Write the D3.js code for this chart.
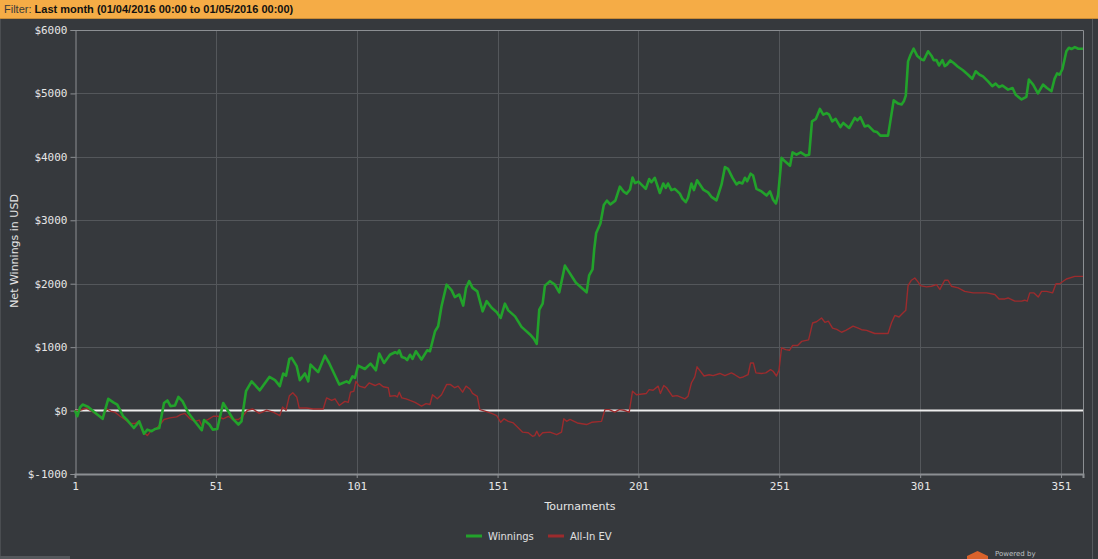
<!DOCTYPE html>
<html>
<head>
<meta charset="utf-8">
<script src="https://cdn.jsdelivr.net/npm/d3@7"></script>
<style>
  body { margin: 0; background: #36393d; }
  svg { display: block; }
  .tick text { fill: #e6e6e6; font-family: 'DejaVu Sans Mono', monospace; font-size: 11px; }
  .axisTitle { fill: #e6e6e6; font-family: 'DejaVu Sans', sans-serif; font-size: 11px; }
  .legendText { fill: #e0e0e0; font-family: 'DejaVu Sans', sans-serif; font-size: 10px; }
</style>
</head>
<body>
<svg id="chart" width="1098" height="559"></svg>
<script>
// [tournament, net winnings in USD] at the line's corners
let winnings = [
  [1,0],[1.8,-90],[2.8,50],[3.7,95],[5.7,58],[7.5,-10],[10.8,-130],[12.8,185],[14.6,130],[16,95],
  [18.1,-90],[19.3,-140],[21.9,-275],[23.8,-170],[25.5,-365],[26.7,-300],[28.2,-325],[29.4,-290],
  [30.9,-275],[32.6,120],[33.8,160],[34.9,70],[36.5,80],[37.7,215],[39.2,145],[41.2,-35],[43,-140],
  [46,-310],[46.8,-150],[48.7,-220],[49.9,-300],[51.5,-290],[53.6,120],[55.4,-10],[57.2,-140],
  [59,-220],[60.1,-170],[61.7,305],[63.7,460],[66.6,320],[70,530],[72,480],[73.7,385],[74.9,585],
  [75.9,550],[77.1,815],[77.9,830],[79.7,700],[80.8,480],[82.6,585],[83.8,460],[84.6,725],[87.3,605],
  [89.7,865],[91.2,750],[94.8,410],[97.4,460],[98.3,435],[99.5,540],[100.4,515],[101.5,710],
  [103.9,655],[105.9,740],[107.8,635],[109,900],[110.7,750],[112.8,880],[114.6,920],[115.4,900],
  [116.1,950],[117,845],[118.1,830],[118.9,795],[119.9,880],[120.8,815],[122,935],[124,805],[126,950],
  [127,935],[128.8,1250],[129.9,1330],[131.1,1645],[132.9,1985],[134.7,1895],[135.8,1790],[137.4,1830],
  [138.8,1655],[139.8,1935],[140.9,2040],[142.1,1935],[143.8,1880],[145.7,1565],[147.1,1725],
  [148.9,1620],[150.7,1550],[152.1,1460],[153.6,1685],[154.8,1580],[157.2,1485],[159.5,1320],
  [162.5,1200],[163.9,1130],[164.9,1050],[165.8,1590],[167,1685],[167.8,1970],[169.6,2040],
  [171.3,1985],[172.9,1865],[174.9,2285],[178.8,2015],[182.6,1865],[183.5,2130],[184.7,2225],
  [185.3,2540],[186,2800],[187.5,2950],[188.7,3240],[189.8,3310],[191,3250],[192.8,3310],[194.4,3530],
  [195.8,3450],[196.8,3420],[198,3485],[198.9,3675],[199.8,3585],[201,3610],[203.6,3495],[204.8,3650],
  [205.6,3600],[206.8,3670],[208.6,3430],[209.8,3580],[210.7,3510],[211.5,3580],[212.7,3475],
  [213.9,3495],[215.7,3420],[216.6,3340],[217.8,3285],[218.6,3355],[219.8,3580],[220.7,3475],
  [221.8,3630],[224,3485],[225.7,3440],[226.9,3370],[228.7,3315],[230.5,3565],[231.7,3840],
  [232.8,3810],[234.4,3670],[235.8,3565],[236.7,3600],[237.9,3580],[238.8,3670],[239.6,3615],
  [240.8,3735],[241.7,3705],[242.9,3495],[244.7,3455],[246.5,3390],[247.7,3455],[248.8,3325],
  [249.8,3265],[250.6,3405],[251.8,3985],[253,3930],[254.8,3860],[255.7,4070],[257.1,4035],
  [258.6,4070],[260.4,4020],[261.6,4035],[262.6,4560],[264,4600],[265.4,4755],[266.6,4665],
  [267.8,4690],[268.7,4665],[269.8,4560],[271,4600],[272.7,4470],[273.7,4535],[275.8,4455],
  [277.8,4615],[278.7,4575],[279.8,4625],[281.3,4480],[282.5,4495],[284.5,4405],[285.7,4390],
  [286.9,4335],[289.6,4335],[291.6,4890],[293.2,4840],[294.4,4825],[295.2,4875],[295.9,4965],
  [296.7,5505],[297.6,5610],[298.7,5705],[299.9,5595],[301.5,5535],[302.3,5525],[303.8,5665],
  [305,5595],[305.8,5525],[306.8,5525],[307.7,5440],[308.9,5525],[309.7,5430],[310.5,5455],
  [311.7,5520],[312.9,5480],[314.4,5420],[316.2,5365],[318,5295],[319.5,5230],[320.7,5350],
  [322.1,5295],[323.3,5270],[325.1,5190],[326.6,5115],[327.8,5155],[329,5100],[330.2,5125],
  [332.2,5060],[333.8,5085],[334.9,4980],[337,4905],[338.7,4945],[339.6,5220],[341.1,5140],
  [342.8,5000],[344.6,5140],[346,5085],[347.6,5035],[348.7,5230],[349.6,5315],[350.5,5295],
  [351.5,5385],[352.9,5665],[353.8,5720],[354.7,5700],[355.9,5730],[357.1,5705],[358.8,5705]
];

let allInEv = [
  [1,0],[2.8,5],[5.1,40],[6.9,-10],[9.3,-80],[10.8,-100],[12.2,25],[13.7,-10],[15.2,-25],[17,-90],
  [18.7,-140],[20.5,-205],[22.3,-205],[23.5,-170],[25,-325],[26.7,-395],[27.9,-325],[29.4,-300],
  [30.9,-235],[32.6,-140],[34.7,-115],[37.1,-100],[38.5,-65],[40,-45],[41.8,-130],[43.6,-170],
  [45.1,-150],[46,-235],[46.8,-170],[48.3,-140],[50.1,-90],[51.9,-90],[53.6,-130],[55.4,-90],
  [57,-140],[59,-140],[60.5,-90],[62.2,5],[64.1,25],[66.4,-45],[69,5],[71.4,-25],[73.7,-80],
  [74.7,55],[75.9,5],[77.1,235],[78.3,280],[79.7,215],[80.6,40],[83.2,40],[85.6,25],[89.1,25],
  [90.3,200],[92.1,160],[93.3,185],[94.8,80],[96.8,145],[98,130],[98.8,290],[100,305],[100.7,460],
  [101.9,385],[103.9,360],[105.4,435],[107.5,395],[109,425],[110.4,375],[112.2,360],[112.8,225],
  [114.6,235],[115.4,215],[116.1,290],[117,200],[118.5,185],[119.9,160],[121.7,130],[124,70],
  [125.6,110],[127,95],[127.9,250],[129.6,185],[131.1,250],[132.9,410],[134.3,410],[135.8,360],
  [137,385],[138.6,290],[139.8,385],[141.2,340],[142.1,270],[143.8,225],[144.7,15],[146.5,-10],
  [148.9,-45],[150.7,-80],[152.1,-185],[153.3,-130],[154.8,-170],[156.6,-195],[158.4,-275],
  [159.9,-340],[161.9,-350],[163.4,-405],[164.2,-395],[164.9,-325],[165.8,-405],[167,-350],
  [169.6,-340],[172,-380],[173.7,-340],[174.5,-130],[175.5,-170],[176.7,-140],[179.3,-195],
  [182.6,-220],[184.4,-185],[187.9,-170],[189.1,15],[190.6,15],[192.6,-25],[194.2,15],[195.8,5],
  [197.7,-25],[198.9,305],[200.3,250],[203.8,270],[204.8,330],[206.2,320],[208,385],[208.8,270],
  [210,395],[211,360],[213.1,225],[214.7,235],[217.5,185],[218.6,225],[219.8,435],[221,530],
  [221.8,690],[224.3,545],[226.1,565],[227.5,550],[229.9,585],[231.7,550],[234,595],[235.2,565],
  [237,515],[238.2,530],[239.9,565],[240.8,750],[241.8,750],[242.7,595],[244.7,585],[246.2,595],
  [247.9,645],[248.8,620],[250,545],[250.9,640],[251.8,990],[253.3,960],[254.6,950],[255.7,1025],
  [257.5,1025],[258.9,1090],[261.4,1115],[262.8,1380],[264.2,1400],[266,1460],[267.2,1390],
  [268.4,1410],[269.9,1300],[271.4,1280],[273.1,1235],[274.6,1265],[276,1300],[277.2,1330],
  [279,1300],[280.2,1275],[282,1265],[283.7,1235],[284.9,1215],[289.6,1215],[290.8,1380],[292,1500],
  [293.5,1475],[294.7,1530],[295.9,1580],[296.7,1970],[297.9,2055],[299.1,2090],[300.3,2025],
  [301.1,1970],[303.2,1950],[305,1960],[306.8,1985],[308,1910],[309.7,2055],[310.9,2055],
  [312.1,1960],[314.5,1935],[316.8,1880],[319.8,1855],[324.6,1855],[327.5,1830],[329,1760],
  [331.1,1760],[332.2,1775],[334.6,1725],[337,1725],[338.1,1740],[339,1725],[339.9,1855],
  [341.4,1855],[342.9,1790],[344.1,1880],[345.9,1880],[348,1855],[349.2,2000],[350.5,2000],
  [352.9,2075],[355.9,2115],[358.8,2115]
];

let xTicks = [1, 51, 101, 151, 201, 251, 301, 351];
let yTicks = [-1000, 0, 1000, 2000, 3000, 4000, 5000, 6000];
let seriesNames = ['Winnings', 'All-In EV'];
let seriesColors = ['#22a22b', '#9c2b2d'];

let svg = d3.select('#chart');
let plot = {left: 75, right: 1083, top: 30, bottom: 474};

let x = d3.scaleLinear().domain([1, 358.8]).range([plot.left, plot.right]);
let y = d3.scaleLinear().domain([-1000, 6000]).range([plot.bottom, plot.top]);

// Filter bar across the top
svg.append('rect')
    .attr('x', 0).attr('y', 0).attr('width', 1098).attr('height', 18)
    .attr('fill', '#f5ac46');
svg.append('line')
    .attr('x1', 0).attr('x2', 1098).attr('y1', 18.5).attr('y2', 18.5)
    .attr('stroke', '#c98b36');
let filterText = svg.append('text')
    .attr('x', 4).attr('y', 13)
    .style('font-family', "'Liberation Sans', sans-serif")
    .style('font-size', '11px');
filterText.append('tspan').attr('fill', '#3a3a3a').text('Filter: ');
filterText.append('tspan').attr('fill', '#111').style('font-weight', 'bold')
    .text('Last month (01/04/2016 00:00 to 01/05/2016 00:00)');

// window edges
svg.append('line').attr('x1', 0.5).attr('x2', 0.5).attr('y1', 19).attr('y2', 559)
    .attr('stroke', '#4a4d51');
svg.append('line').attr('x1', 1092.5).attr('x2', 1092.5).attr('y1', 19).attr('y2', 559)
    .attr('stroke', '#56595d');
svg.append('rect').attr('x', 0).attr('y', 556).attr('width', 70).attr('height', 3)
    .attr('fill', '#55585c');

// grid
svg.append('g')
    .selectAll('line')
    .data(yTicks.filter(d => d !== 0 && d !== -1000 && d !== 6000))
    .join('line')
    .attr('x1', plot.left).attr('x2', plot.right)
    .attr('y1', d => Math.round(y(d)) + 0.5).attr('y2', d => Math.round(y(d)) + 0.5)
    .attr('stroke', '#54575b');
svg.append('g')
    .selectAll('line')
    .data(xTicks.slice(1))
    .join('line')
    .attr('x1', d => Math.round(x(d)) + 0.5).attr('x2', d => Math.round(x(d)) + 0.5)
    .attr('y1', plot.top).attr('y2', plot.bottom)
    .attr('stroke', '#54575b');

// plot frame (top and right)
svg.append('path')
    .attr('d', `M${plot.left},${plot.top + 0.5}H${plot.right + 0.5}V${plot.bottom}`)
    .attr('fill', 'none')
    .attr('stroke', '#8c8f93');

let yAxis = d3.axisLeft(y).tickValues(yTicks).tickSize(5).tickPadding(3)
    .tickFormat(d => '$' + d);
svg.append('g')
    .attr('transform', `translate(${plot.left + 0.5},0)`)
    .call(yAxis)
    .call(g => g.select('.domain').attr('stroke', '#8c8f93'))
    .call(g => g.selectAll('.tick line').attr('stroke', '#8c8f93'));

let xAxis = d3.axisBottom(x).tickValues(xTicks).tickSize(4).tickPadding(4);
svg.append('g')
    .attr('transform', `translate(0,${plot.bottom})`)
    .call(xAxis)
    .call(g => g.select('.domain').attr('stroke', '#8c8f93').attr('stroke-width', 2))
    .call(g => g.selectAll('.tick line').attr('stroke', '#8c8f93'));

// zero line
svg.append('line')
    .attr('x1', plot.left).attr('x2', plot.right)
    .attr('y1', y(0)).attr('y2', y(0))
    .attr('stroke', '#eeeeee')
    .attr('stroke-width', 2);

let line = d3.line().x(d => x(d[0])).y(d => y(d[1]));

svg.append('path')
    .datum(allInEv)
    .attr('d', line)
    .attr('fill', 'none')
    .attr('stroke', seriesColors[1])
    .attr('stroke-width', 1.4)
    .attr('stroke-linejoin', 'round');

svg.append('path')
    .datum(winnings)
    .attr('d', line)
    .attr('fill', 'none')
    .attr('stroke', seriesColors[0])
    .attr('stroke-width', 2.6)
    .attr('stroke-linejoin', 'round');

// axis titles
svg.append('text')
    .attr('class', 'axisTitle')
    .attr('x', 580).attr('y', 510)
    .attr('text-anchor', 'middle')
    .text('Tournaments');
svg.append('text')
    .attr('class', 'axisTitle')
    .attr('transform', 'translate(18,251) rotate(-90)')
    .attr('text-anchor', 'middle')
    .text('Net Winnings in USD');

// legend
let legendX = [466, 548];
let legend = svg.append('g')
    .selectAll('g')
    .data(seriesNames)
    .join('g')
    .attr('transform', (d, i) => `translate(${legendX[i]},536)`);
legend.append('rect')
    .attr('x', 0).attr('y', -1.5).attr('width', 16).attr('height', 3)
    .attr('fill', (d, i) => seriesColors[i]);
legend.append('text')
    .attr('class', 'legendText')
    .attr('x', 22).attr('y', 4)
    .text(d => d);

// "Powered by" badge at the bottom edge
svg.append('path')
    .attr('d', 'M967,559 L967,556 L977.5,551 L988,556 L988,559 Z')
    .attr('fill', '#d9622b');
svg.append('text')
    .attr('x', 995).attr('y', 556)
    .attr('fill', '#bfc1c4')
    .style('font-family', "'DejaVu Sans', sans-serif")
    .style('font-size', '7px')
    .text('Powered by');
</script>
</body>
</html>
